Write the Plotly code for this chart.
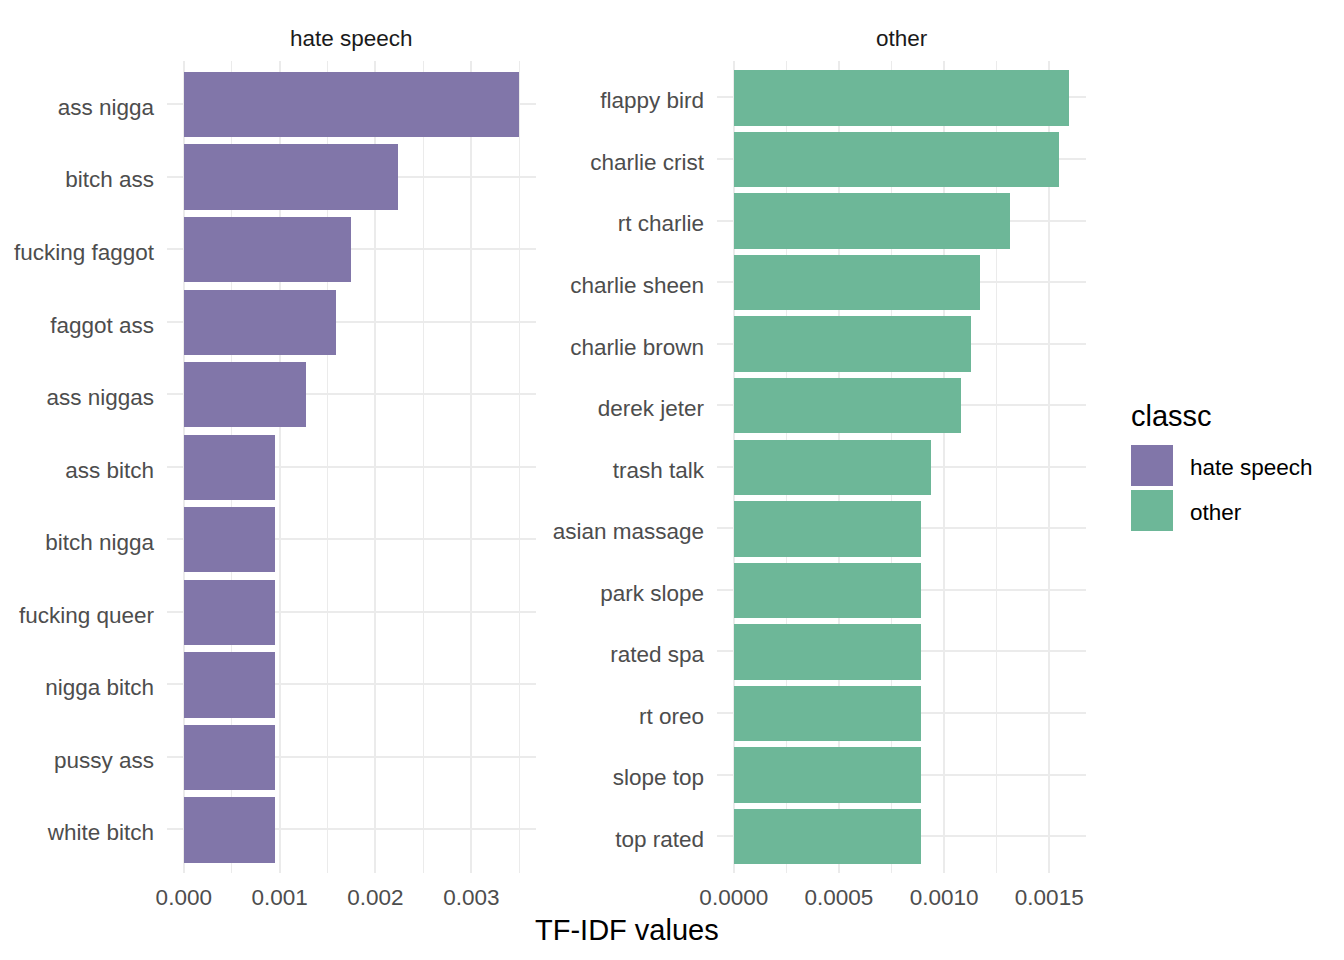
import plotly.graph_objects as go

# top-to-bottom order as shown in each facet
hate_terms = ["ass nigga", "bitch ass", "fucking faggot", "faggot ass", "ass niggas",
              "ass bitch", "bitch nigga", "fucking queer", "nigga bitch", "pussy ass",
              "white bitch"]
hate_tfidf = [0.00350, 0.00223, 0.001745, 0.00159, 0.001275,
              0.00095, 0.00095, 0.00095, 0.00095, 0.00095, 0.00095]

other_terms = ["flappy bird", "charlie crist", "rt charlie", "charlie sheen", "charlie brown",
               "derek jeter", "trash talk", "asian massage", "park slope", "rated spa",
               "rt oreo", "slope top", "top rated"]
other_tfidf = [0.001595, 0.001548, 0.001314, 0.001171, 0.001129,
               0.001081, 0.000938, 0.000890, 0.000890, 0.000890,
               0.000890, 0.000890, 0.000890]

class_names = ["hate speech", "other"]
class_colors = ["#8176a9", "#6db798"]

FONT = "Liberation Sans, Arial, sans-serif"
W, H = 1344, 960
PAD = 8  # page body margin
FW, FH = W - 2 * PAD, H - 2 * PAD
TICK_SIZE = 22.5


def px(x):
    return (x - PAD) / FW


def py(y):
    return 1 - (y - PAD) / FH


fig = go.Figure()

fig.add_trace(go.Bar(
    x=hate_tfidf, y=hate_terms, orientation="h", width=0.9,
    marker=dict(color=class_colors[0], line=dict(width=0)),
    xaxis="x", yaxis="y", showlegend=False,
))
fig.add_trace(go.Bar(
    x=other_tfidf, y=other_terms, orientation="h", width=0.9,
    marker=dict(color=class_colors[1], line=dict(width=0)),
    xaxis="x2", yaxis="y2", showlegend=False,
))

# panel positions in screen pixels
top, bottom = 60.5, 873
left_l, left_r = 167, 536
right_l, right_r = 717, 1086
ydom = [py(bottom), py(top)]


def x_axis(vals, dom, dtick, minor_dtick, fmt, anchor):
    pad = max(vals) * 0.05
    return dict(
        domain=[px(dom[0]), px(dom[1])], range=[-pad, max(vals) + pad],
        anchor=anchor, dtick=dtick, tick0=0, tickformat=fmt,
        showgrid=True, gridcolor="#ebebeb", gridwidth=2,
        minor=dict(showgrid=True, gridcolor="#ebebeb", gridwidth=1, dtick=minor_dtick, tick0=0),
        zeroline=False, showline=False, ticks="",
        ticklabelstandoff=8, automargin=False,
        tickfont=dict(family=FONT, size=TICK_SIZE, color="#4d4d4d"),
    )


def y_axis(terms, anchor):
    return dict(
        domain=ydom, type="category", categoryorder="array",
        categoryarray=list(reversed(terms)),
        range=[-0.6, len(terms) - 0.4], anchor=anchor,
        showgrid=True, gridcolor="#ebebeb", gridwidth=2,
        zeroline=False, showline=False, ticks="",
        ticklabelstandoff=12, ticklabelshift=3, automargin=False,
        tickfont=dict(family=FONT, size=TICK_SIZE, color="#4d4d4d"),
    )


fig.update_layout(
    width=FW, height=FH,
    margin=dict(l=0, r=0, t=0, b=0),
    paper_bgcolor="white", plot_bgcolor="white",
    bargap=0,
    xaxis=x_axis(hate_tfidf, (left_l, left_r), 0.001, 0.0005, ".3f", "y"),
    yaxis=y_axis(hate_terms, "x"),
    xaxis2=x_axis(other_tfidf, (right_l, right_r), 0.0005, 0.00025, ".4f", "y2"),
    yaxis2=y_axis(other_terms, "x2"),
)

annotations = [
    # facet strips
    dict(text="hate speech", x=px((left_l + left_r) / 2), y=py(39),
         font=dict(family=FONT, size=TICK_SIZE, color="#1a1a1a")),
    dict(text="other", x=px((right_l + right_r) / 2), y=py(39),
         font=dict(family=FONT, size=TICK_SIZE, color="#1a1a1a")),
    # shared x title
    dict(text="TF-IDF values", x=px((left_l + right_r) / 2), y=py(930),
         font=dict(family=FONT, size=29, color="black")),
    # legend
    dict(text="classc", x=px(1129), y=py(416), xanchor="left",
         font=dict(family=FONT, size=29, color="black")),
]
for a in annotations:
    a.update(xref="paper", yref="paper", showarrow=False)
    a.setdefault("xanchor", "center")
    a["yanchor"] = "middle"

shapes = []
key_tops = [445, 490]
for name, col, kt in zip(class_names, class_colors, key_tops):
    shapes.append(dict(type="rect", xref="paper", yref="paper",
                       x0=px(1131), x1=px(1173), y0=py(kt + 41), y1=py(kt),
                       fillcolor=col, line=dict(width=0)))
    annotations.append(dict(text=name, x=px(1188), y=py(kt + 22),
                            xref="paper", yref="paper", showarrow=False,
                            xanchor="left", yanchor="middle",
                            font=dict(family=FONT, size=TICK_SIZE, color="black")))

fig.update_layout(annotations=annotations, shapes=shapes)

fig.write_html("out.html")
